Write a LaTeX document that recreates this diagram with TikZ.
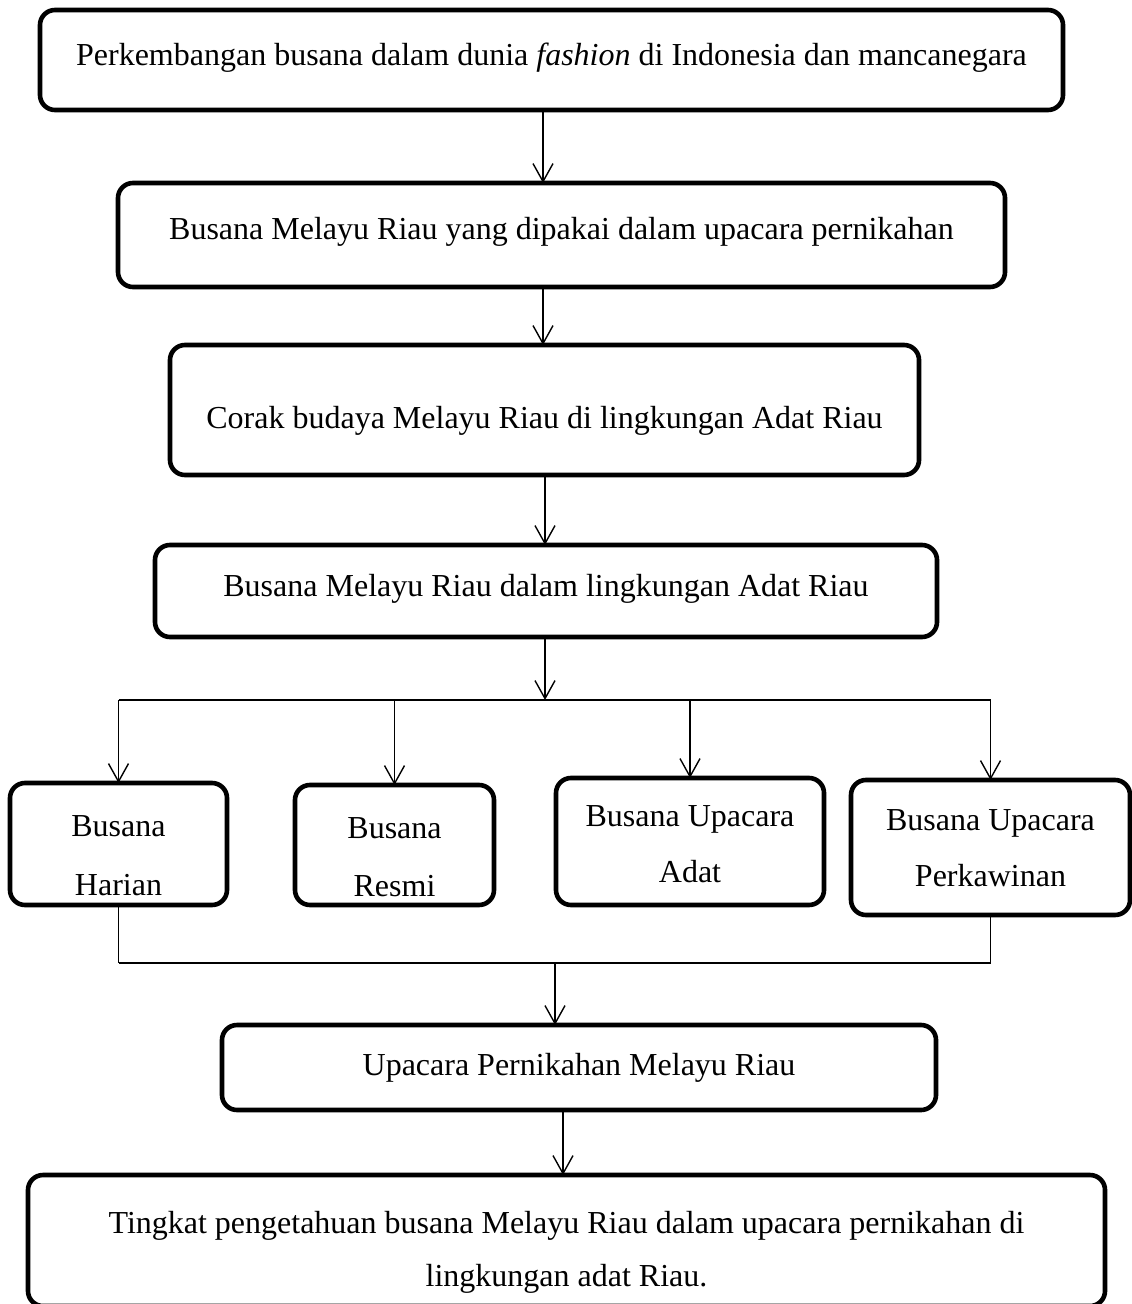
\documentclass[tikz,border=0pt]{standalone}
\usepackage{fontspec}
\setmainfont{Liberation Serif}
\usetikzlibrary{arrows.meta}
\newcommand{\shifttxt}[2]{\raisebox{#1}[\height][\depth]{#2}}
\newcommand{\twolines}[3]{\raisebox{#1}[\height][\depth]{\begin{tabular}{@{}c@{}}#2\\#3\end{tabular}}}
\begin{document}
\begin{tikzpicture}[x=0.5pt,y=-0.5pt,
  box/.style={draw, line width=2.3pt, rounded corners=7.5pt, inner sep=0pt, outer sep=0pt,
    align=center, font=\fontsize{16}{28}\selectfont},
  arr/.style={line width=0.7pt, -{Straight Barb[length=9pt,width=10pt,line width=0.7pt]}},
  ln/.style={line width=0.7pt}]
\useasboundingbox (0,0) rectangle (1131,1304);
\node[box, minimum width=511.5pt, minimum height=50pt] (b1) at (551.5,60)
  {\shifttxt{1pt}{Perkembangan busana dalam dunia \textit{fashion} di Indonesia dan mancanegara}};
\node[box, minimum width=443.5pt, minimum height=52pt] (b2) at (561.5,235)
  {\shifttxt{1.5pt}{Busana Melayu Riau yang dipakai dalam upacara pernikahan}};
\node[box, minimum width=374.5pt, minimum height=65pt] (b3) at (544.5,410)
  {\shifttxt{-5.5pt}{Corak budaya Melayu Riau di lingkungan Adat Riau}};
\node[box, minimum width=391pt, minimum height=46pt] (b4) at (546,591)
  {\shifttxt{1pt}{Busana Melayu Riau dalam lingkungan Adat Riau}};
\node[box, minimum width=108.5pt, minimum height=61pt, font=\fontsize{16}{29.5}\selectfont] (c1) at (118.5,844)
  {\twolines{-5pt}{Busana}{Harian}};
\node[box, minimum width=99.5pt, minimum height=60pt, font=\fontsize{16}{29}\selectfont] (c2) at (394.5,845)
  {\twolines{-5.5pt}{Busana}{Resmi}};
\node[box, minimum width=134pt, minimum height=63.5pt] (c3) at (690,841.5)
  {\twolines{-1pt}{Busana Upacara}{Adat}};
\node[box, minimum width=139.5pt, minimum height=67.5pt] (c4) at (990.5,847.5)
  {\twolines{0pt}{Busana Upacara}{Perkawinan}};
\node[box, minimum width=357pt, minimum height=42.5pt] (d) at (579,1067.5)
  {Upacara Pernikahan Melayu Riau};
\node[box, minimum width=538.5pt, minimum height=65.5pt, font=\fontsize{16}{26.5}\selectfont] (e) at (566.5,1240.5)
  {\twolines{-4.25pt}{Tingkat pengetahuan busana Melayu Riau dalam upacara pernikahan di}{lingkungan adat Riau.}};
% vertical chain
\draw[arr] (b1.south -| 543,0) -- (b2.north -| 543,0);
\draw[arr] (b2.south -| 543,0) -- (b3.north -| 543,0);
\draw[arr] (b3.south -| 545,0) -- (b4.north -| 545,0);
% branch
\coordinate (h) at (545,700);
\draw[arr] (b4.south -| h) -- (h);
\draw[ln] (c1.north |- h) -- (c4.north |- h);
\draw[arr] (c1.north |- h) -- (c1.north);
\draw[arr] (c2.north |- h) -- (c2.north);
\draw[arr] (c3.north |- h) -- (c3.north);
\draw[arr] (c4.north |- h) -- (c4.north);
% join
\coordinate (g) at (555,963);
\draw[ln] (c1.south) -- (c1.south |- g);
\draw[ln] (c4.south) -- (c4.south |- g);
\draw[ln] (c1.south |- g) -- (c4.south |- g);
\draw[arr] (g) -- (d.north -| g);
\draw[arr] (d.south -| 563,0) -- (e.north -| 563,0);
\end{tikzpicture}
\end{document}
